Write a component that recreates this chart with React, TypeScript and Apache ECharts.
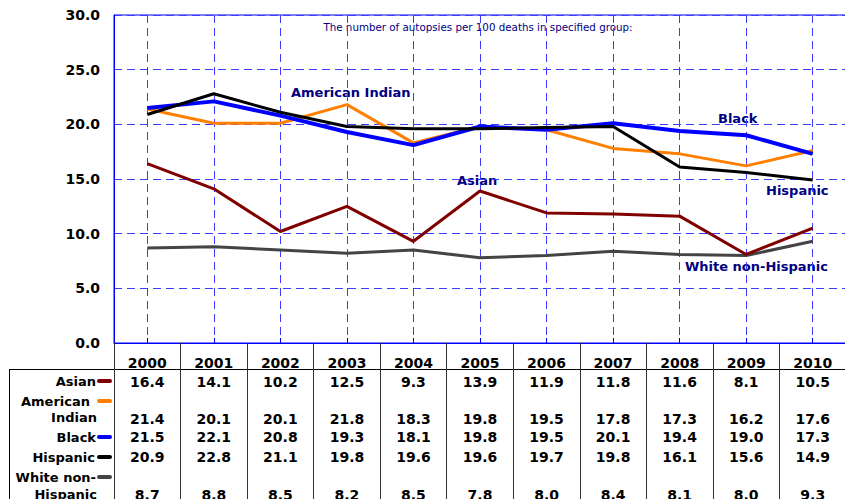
import React, { useEffect, useRef } from "react";
import * as echarts from "echarts";

const years = ["2000", "2001", "2002", "2003", "2004", "2005", "2006", "2007", "2008", "2009", "2010"];
const asian = [16.4, 14.1, 10.2, 12.5, 9.3, 13.9, 11.9, 11.8, 11.6, 8.1, 10.5];
const americanIndian = [21.4, 20.1, 20.1, 21.8, 18.3, 19.8, 19.5, 17.8, 17.3, 16.2, 17.6];
const black = [21.5, 22.1, 20.8, 19.3, 18.1, 19.8, 19.5, 20.1, 19.4, 19.0, 17.3];
const hispanic = [20.9, 22.8, 21.1, 19.8, 19.6, 19.6, 19.7, 19.8, 16.1, 15.6, 14.9];
const whiteNonHispanic = [8.7, 8.8, 8.5, 8.2, 8.5, 7.8, 8.0, 8.4, 8.1, 8.0, 9.3];

const yMin = 0;
const yMax = 30;
const yStep = 5;

const subtitle = "The number of autopsies per 100 deaths in specified group:";

const FONT = '"DejaVu Sans", Verdana, sans-serif';
const C_ASIAN = "#800000";
const C_AMIND = "#ff8000";
const C_BLACK = "#0000ff";
const C_HISP = "#000000";
const C_WHITE = "#444444";
const NAVY = "#000080";
const GRID_BLUE = "#3c3cff";

export default function App() {
  const ref = useRef<HTMLDivElement>(null);

  useEffect(() => {
    if (!ref.current) return;
    const chart = echarts.init(ref.current, null, { renderer: "svg" });

    const cell = (lh: number) => ({
      fontSize: 14,
      fontWeight: "bold",
      fontFamily: FONT,
      color: "#000",
      lineHeight: lh,
      align: "center",
    });

    const rowLabel = (text: string, x: number, y: number) => ({
      type: "text",
      style: {
        text,
        x,
        y,
        font: `bold 13px ${FONT}`,
        fill: "#000",
        textAlign: "right",
        textVerticalAlign: "middle",
      },
    });
    const keyDash = (y: number, color: string) => ({
      type: "line",
      shape: { x1: 99, y1: y, x2: 110, y2: y },
      style: { stroke: color, lineWidth: 4, lineCap: "round" },
    });
    const note = (text: string, x: number, y: number) => ({
      type: "text",
      style: {
        text,
        x,
        y,
        font: `bold 13px ${FONT}`,
        fill: NAVY,
        textAlign: "left",
        textVerticalAlign: "middle",
      },
    });

    const lineSeries = (name: string, data: number[], color: string, width: number) => ({
      name,
      type: "line",
      xAxisIndex: 0,
      yAxisIndex: 0,
      data,
      symbol: "none",
      showSymbol: false,
      lineStyle: { color, width },
      itemStyle: { color },
    });

    chart.setOption({
      animation: false,
      backgroundColor: "#ffffff",
      grid: {
        left: 114,
        top: 15,
        width: 732,
        height: 328,
        show: true,
        borderColor: "#0000ff",
        borderWidth: 1,
        backgroundColor: "transparent",
        containLabel: false,
        outerBoundsMode: "none",
      },
      xAxis: [
        {
          type: "category",
          data: years,
          position: "bottom",
          offset: 0,
          boundaryGap: true,
          axisLine: { show: true, lineStyle: { color: "#0000ff", width: 1 } },
          axisTick: { show: true, inside: false, length: 156, lineStyle: { color: "#333333", width: 1 } },
          splitLine: { show: false },
          axisLabel: {
            show: true,
            interval: 0,
            margin: 10,
            formatter: (value: string, index: number) =>
              [
                `{r1|${value}}`,
                `{r2|${asian[index].toFixed(1)}}`,
                `{r3| }`,
                `{r4|${americanIndian[index].toFixed(1)}}`,
                `{r5|${black[index].toFixed(1)}}`,
                `{r6|${hispanic[index].toFixed(1)}}`,
                `{r7| }`,
                `{r8|${whiteNonHispanic[index].toFixed(1)}}`,
              ].join("\n"),
            rich: {
              r1: cell(19),
              r2: cell(19),
              r3: cell(19),
              r4: cell(17),
              r5: cell(20),
              r6: cell(20),
              r7: cell(19),
              r8: cell(17),
            },
          },
        },
        {
          type: "category",
          data: years,
          position: "bottom",
          offset: 0,
          boundaryGap: true,
          axisLine: { show: false },
          axisTick: { show: true, inside: true, alignWithLabel: true, length: 5, lineStyle: { color: "#0000ff", width: 1 } },
          axisLabel: { show: false },
          splitLine: {
            show: true,
            alignWithLabel: true,
            lineStyle: { color: GRID_BLUE, width: 1, type: [8, 5] },
          },
        },
      ],
      yAxis: {
        type: "value",
        min: yMin,
        max: yMax,
        interval: yStep,
        axisLine: { show: true, lineStyle: { color: "#0000ff", width: 1 } },
        axisTick: { show: false },
        axisLabel: {
          margin: 14,
          color: "#000",
          fontSize: 14,
          fontWeight: "bold",
          fontFamily: FONT,
          padding: [2, 0, 0, 0],
          formatter: (v: number) => v.toFixed(1),
        },
        splitLine: { show: true, lineStyle: { color: GRID_BLUE, width: 1, type: [8, 5] } },
      },
      series: [
        lineSeries("White non-Hispanic", whiteNonHispanic, C_WHITE, 3),
        lineSeries("American Indian", americanIndian, C_AMIND, 3),
        lineSeries("Black", black, C_BLACK, 4),
        lineSeries("Hispanic", hispanic, C_HISP, 3),
        lineSeries("Asian", asian, C_ASIAN, 3),
      ],
      graphic: [
        {
          type: "text",
          style: {
            text: subtitle,
            x: 478,
            y: 27,
            font: `10.3px ${FONT}`,
            fill: NAVY,
            textAlign: "center",
            textVerticalAlign: "middle",
          },
        },
        note("American Indian", 291, 92),
        note("Black", 718, 118),
        note("Asian", 457, 180),
        note("Hispanic", 766, 190),
        note("White non-Hispanic", 685, 266),
        {
          type: "line",
          shape: { x1: 9, y1: 369.5, x2: 845, y2: 369.5 },
          style: { stroke: "#000", lineWidth: 1 },
        },
        {
          type: "line",
          shape: { x1: 9.5, y1: 369.5, x2: 9.5, y2: 499 },
          style: { stroke: "#000", lineWidth: 1 },
        },
        rowLabel("Asian", 96, 381),
        keyDash(381, C_ASIAN),
        rowLabel("American", 90, 401),
        keyDash(401, C_AMIND),
        rowLabel("Indian", 97, 417),
        rowLabel("Black", 96, 437),
        keyDash(437, C_BLACK),
        rowLabel("Hispanic", 95, 457),
        keyDash(457, C_HISP),
        rowLabel("White non-", 96, 477),
        keyDash(477, C_WHITE),
        rowLabel("Hispanic", 97, 494),
      ],
    });

    return () => chart.dispose();
  }, []);

  return (
    <div
      ref={ref}
      style={{ position: "fixed", left: 0, top: 0, width: 845, height: 499 }}
    />
  );
}
